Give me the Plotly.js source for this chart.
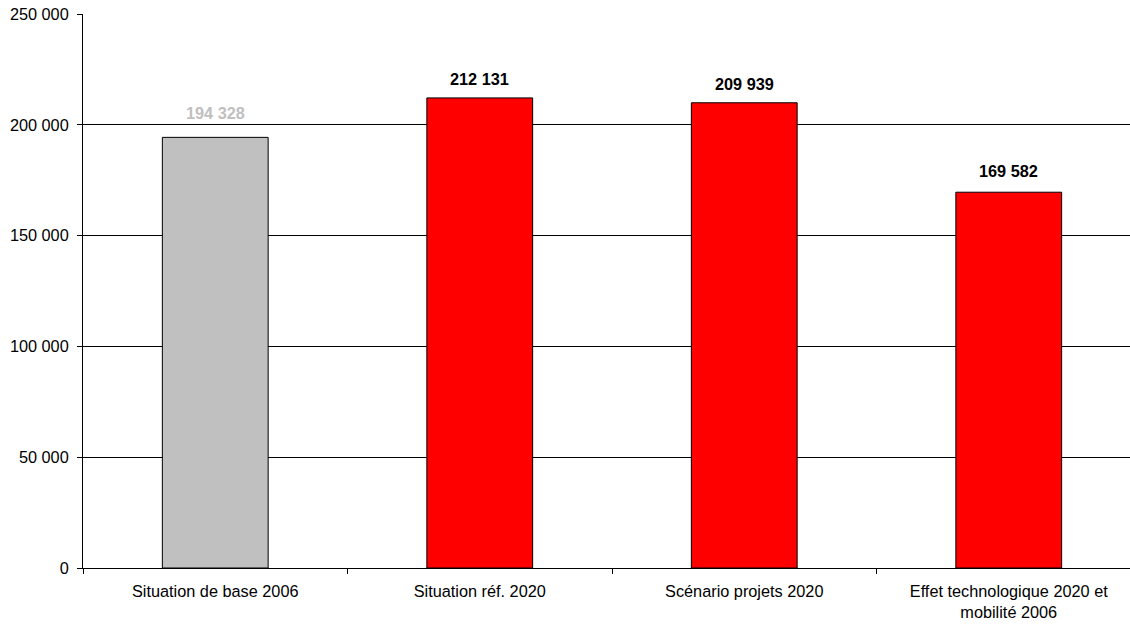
<!DOCTYPE html>
<html><head><meta charset="utf-8">
<script src="https://cdn.plot.ly/plotly-3.0.1.min.js"></script>
<style>html,body{margin:0;padding:0;overflow:hidden;background:#fff}</style>
</head><body>
<div id="chart"></div>
<script>
const categories = ["Situation de base 2006", "Situation réf. 2020", "Scénario projets 2020", "Effet technologique 2020 et<br>mobilité 2006"];
const values = [194328, 212131, 209939, 169582];
const barColors = ["#c0c0c0", "#ff0000", "#ff0000", "#ff0000"];
const labelColors = ["#c0c0c0", "#000000", "#000000", "#000000"];
const yTicks = [0, 50000, 100000, 150000, 200000, 250000];

const FONT = "Liberation Sans, Arial, sans-serif";
const FS = 16.3;
const labelShift = [13, 8, 8, 10];

const trace = {
  type: "bar",
  x: categories,
  y: values,
  width: 0.4,
  marker: {color: barColors, line: {color: "#000", width: 1}},
  hoverinfo: "none"
};

const fmt = v => String(v).replace(/\B(?=(\d{3})+(?!\d))/g, " ");

const annotations = categories.map((c, i) => ({
  x: c, y: values[i], xref: "x", yref: "y",
  text: "<b>" + fmt(values[i]) + "</b>",
  showarrow: false, yanchor: "bottom", xanchor: "center",
  yshift: labelShift[i],
  font: {family: FONT, size: FS, color: labelColors[i]}
}));

const layout = {
  width: 1145, height: 624,
  margin: {l: 83, r: 4, t: 14, b: 56},
  paper_bgcolor: "#fff", plot_bgcolor: "#fff",
  separators: ", ",
  showlegend: false,
  font: {family: FONT, size: FS, color: "#000"},
  annotations: annotations,
  xaxis: {
    type: "category",
    showline: true, linecolor: "#000", linewidth: 1,
    ticks: "outside", tickson: "boundaries", ticklen: 5, tickcolor: "#000",
    ticklabelstandoff: 8,
    showgrid: false,
    tickfont: {size: FS}
  },
  yaxis: {
    range: [0, 250000],
    tickvals: yTicks,
    tickformat: ",d",
    showline: true, linecolor: "#000", linewidth: 1,
    ticks: "outside", ticklen: 5, tickcolor: "#000",
    ticklabelstandoff: 5,
    showgrid: true, gridcolor: "#000", gridwidth: 1,
    zeroline: false,
    tickfont: {size: FS}
  }
};

Plotly.newPlot("chart", [trace], layout, {displayModeBar: false, staticPlot: true});
</script>
</body></html>
